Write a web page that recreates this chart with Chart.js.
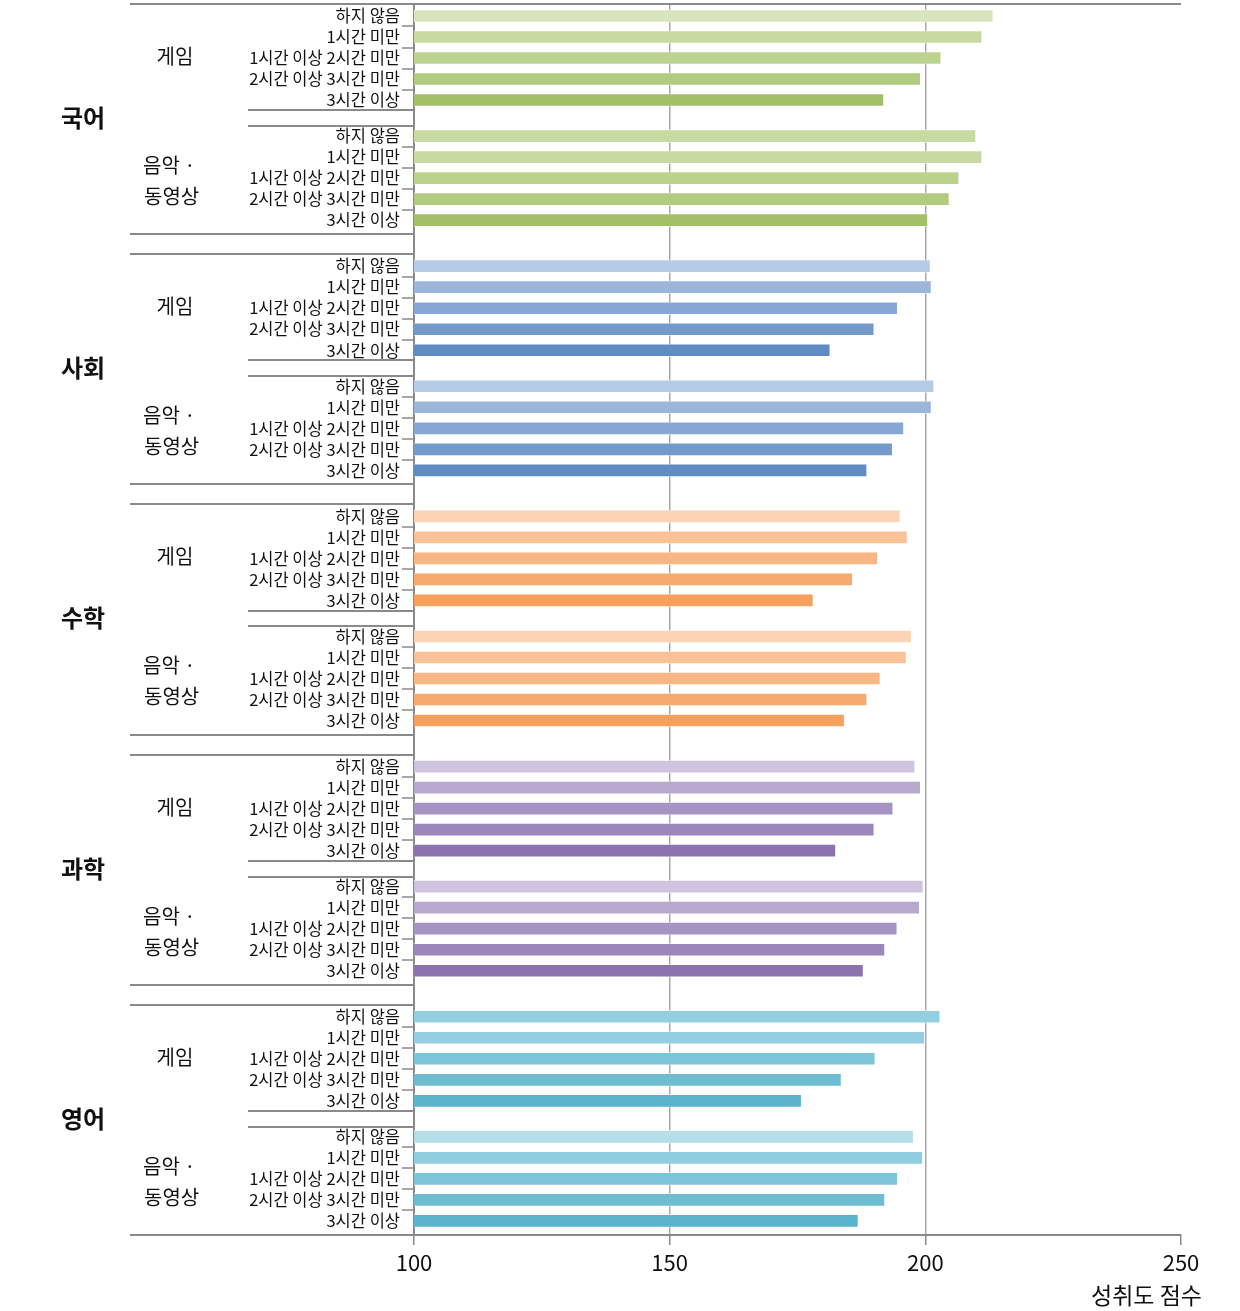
<!DOCTYPE html>
<html lang="ko">
<head>
<meta charset="utf-8">
<title>성취도 점수</title>
<script src="https://cdn.jsdelivr.net/npm/chart.js@4.4.1/dist/chart.umd.min.js"></script>
<style>
  html, body { margin: 0; padding: 0; background: #fff; }
  canvas { display: block; }
</style>
</head>
<body>
<canvas id="chart" width="1240" height="1311"></canvas>
<script>
// categories
const subjects = ['국어', '사회', '수학', '과학', '영어'];
const groups = ['게임', '음악 ·\n동영상'];
const timeLabels = ['하지 않음', '1시간 미만', '1시간 이상 2시간 미만', '2시간 이상 3시간 미만', '3시간 이상'];
const xTicks = [100, 150, 200, 250];

// 성취도 점수 (rows follow timeLabels)
const koreanGame   = [213.3, 211.1, 203.1, 199.1, 191.9];
const koreanMedia  = [209.9, 211.1, 206.6, 204.7, 200.5];
const socialGame   = [201.0, 201.2, 194.6, 190.0, 181.4];
const socialMedia  = [201.7, 201.2, 195.8, 193.6, 188.6];
const mathGame     = [195.1, 196.5, 190.7, 185.8, 178.1];
const mathMedia    = [197.3, 196.3, 191.2, 188.6, 184.2];
const scienceGame  = [198.0, 199.1, 193.7, 190.0, 182.5];
const scienceMedia = [199.6, 198.9, 194.5, 192.1, 187.9];
const englishGame  = [202.9, 199.9, 190.2, 183.6, 175.8];
const englishMedia = [197.7, 199.5, 194.6, 192.1, 186.9];

// colours, light -> dark
const greenGame   = ['#d7e6bf', '#c6daa1', '#bcd38f', '#b1cb80', '#a1c068'];
const greenMedia  = ['#c6daa1', '#c6daa1', '#bbd28d', '#b1cb80', '#a1c068'];
const blueShades  = ['#b6cbe5', '#9bb6da', '#87a8d4', '#749acc', '#5f8cc5'];
const orangeShades = ['#fcd4b4', '#fbc298', '#f9b683', '#f8aa6e', '#f7a05b'];
const purpleShades = ['#d0c3df', '#b7a8ce', '#a793c3', '#9c87bb', '#8a73ae'];
const tealGame    = ['#93cfe0', '#93cfe0', '#7cc4d8', '#6dbcd2', '#59b4cc'];
const tealMedia   = ['#b6deea', '#8fcde0', '#7cc4d8', '#6dbcd2', '#59b4cc'];

const series = [
    [koreanGame, koreanMedia],
    [socialGame, socialMedia],
    [mathGame, mathMedia],
    [scienceGame, scienceMedia],
    [englishGame, englishMedia]
];
const palettes = [
    [greenGame, greenMedia],
    [blueShades, blueShades],
    [orangeShades, orangeShades],
    [purpleShades, purpleShades],
    [tealGame, tealMedia]
];

// layout along the y axis, in row units
const SUBJECT_STEP = 250 / 21;
const GROUP_STEP = 120 / 21;
const Y_MIN = -0.57;
const Y_MAX = (subjects.length - 1) * SUBJECT_STEP + GROUP_STEP + 4 + 0.67;

const LINE = '#8a8a8a';
const FONT = "'Noto Sans CJK KR', 'Noto Sans', sans-serif";

const points = [];
const colors = [];
const rowPositions = [];
series.forEach((pair, s) => {
    pair.forEach((values, g) => {
        values.forEach((v, r) => {
            const pos = s * SUBJECT_STEP + g * GROUP_STEP + r;
            points.push({ x: v, y: pos });
            colors.push(palettes[s][g][r]);
            rowPositions.push(pos);
        });
    });
});

/**
 * Left-hand frame: separators, row ticks, subject and group labels
 */
const framePlugin = {
    id: 'frame',
    afterDraw(chart) {
        const ctx = chart.ctx;
        const area = chart.chartArea;
        const py = v => Math.round(chart.scales.y.getPixelForValue(v));

        function hline(x1, x2, v, w) {
            ctx.lineWidth = w || 2;
            ctx.beginPath();
            ctx.moveTo(x1, py(v));
            ctx.lineTo(x2, py(v));
            ctx.stroke();
        }

        ctx.save();
        ctx.strokeStyle = LINE;

        subjects.forEach((name, s) => {
            const base = s * SUBJECT_STEP;
            hline(130, s === 0 ? area.right : area.left, base - 0.57);
            hline(130, area.left, base + GROUP_STEP + 4 + 0.67);
            hline(248, area.left, base + 4.48);
            hline(248, area.left, base + GROUP_STEP - 0.48);

            for (let g = 0; g < groups.length; g++) {
                for (let r = 0; r < 4; r++) {
                    hline(area.left - 12, area.left, base + g * GROUP_STEP + r + 0.5, 1.5);
                }
            }

            ctx.fillStyle = '#111';
            ctx.textBaseline = 'middle';
            ctx.textAlign = 'center';
            ctx.font = 'bold 24px ' + FONT;
            ctx.fillText(name, 83, py(base + (GROUP_STEP + 4) / 2));

            ctx.font = '20px ' + FONT;
            groups.forEach((label, g) => {
                const lines = label.split('\n');
                const mid = py(base + g * GROUP_STEP + 2);
                if (lines.length === 1) {
                    ctx.textAlign = 'center';
                    ctx.fillText(lines[0], 175, mid - 2);
                } else {
                    ctx.textAlign = 'left';
                    ctx.fillText(lines[0], 143, mid - 13);
                    ctx.fillText(lines[1], 144, mid + 18);
                }
            });
        });

        ctx.font = '23px ' + FONT;
        ctx.textAlign = 'right';
        ctx.fillStyle = '#111';
        ctx.fillText('성취도 점수', 1202, 1295);
        ctx.restore();
    }
};

new Chart(document.getElementById('chart'), {
    type: 'bar',
    data: {
        datasets: [{
            data: points,
            backgroundColor: colors,
            borderColor: 'rgba(255, 255, 255, 0.5)',
            borderWidth: 1,
            barThickness: 13
        }]
    },
    options: {
        indexAxis: 'y',
        responsive: false,
        animation: false,
        devicePixelRatio: 1,
        layout: { padding: { top: 4, right: 59, left: 0, bottom: 0 } },
        plugins: {
            legend: { display: false },
            tooltip: { enabled: false }
        },
        scales: {
            x: {
                type: 'linear',
                min: 100,
                max: 250,
                afterBuildTicks: scale => { scale.ticks = xTicks.map(v => ({ value: v })); },
                afterFit: scale => { scale.height = 76; },
                grid: {
                    color: c => (c.tick && (c.tick.value === 150 || c.tick.value === 200)) ? '#a8a8a8' : 'rgba(0,0,0,0)',
                    lineWidth: 1.5,
                    tickColor: LINE,
                    tickLength: 10
                },
                border: { color: LINE, width: 2 },
                ticks: { color: '#111', font: { family: FONT, size: 22 }, padding: 4, maxRotation: 0 }
            },
            y: {
                type: 'linear',
                reverse: true,
                offset: false,
                min: Y_MIN,
                max: Y_MAX,
                afterBuildTicks: scale => { scale.ticks = rowPositions.map(v => ({ value: v })); },
                afterFit: scale => {
                    scale.width = 414;
                    // labels sit inside the range, no extra room needed above/below
                    scale.paddingTop = 0;
                    scale.paddingBottom = 0;
                },
                grid: { display: false, drawTicks: false, offset: false },
                border: { color: LINE, width: 2 },
                ticks: {
                    autoSkip: false,
                    color: '#111',
                    font: { family: FONT, size: 16.5 },
                    padding: 14,
                    callback: (value, index) => timeLabels[index % timeLabels.length]
                }
            }
        }
    },
    plugins: [framePlugin]
});
</script>
</body>
</html>
